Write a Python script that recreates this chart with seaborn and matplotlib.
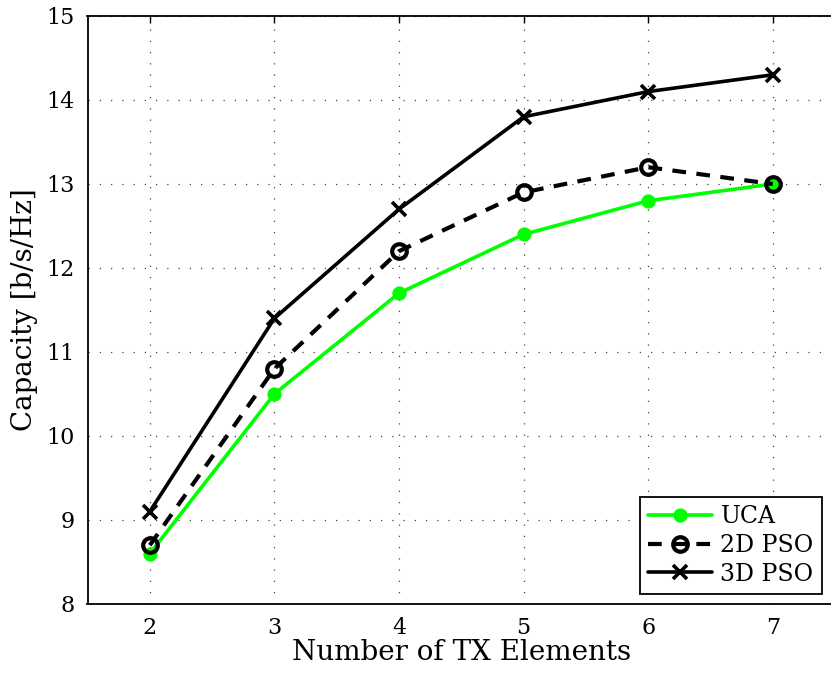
import matplotlib
matplotlib.use("Agg")
import matplotlib.pyplot as plt
import seaborn as sns
import pandas as pd

x_vals = [2, 3, 4, 5, 6, 7]
uca = [8.6, 10.5, 11.7, 12.4, 12.8, 13.0]
pso2d = [8.7, 10.8, 12.2, 12.9, 13.2, 13.0]
pso3d = [9.1, 11.4, 12.7, 13.8, 14.1, 14.3]
x_ticks = [2, 3, 4, 5, 6, 7]
y_ticks = [8, 9, 10, 11, 12, 13, 14, 15]

sns.set_style("white")
plt.rcParams['font.family'] = ['DejaVu Serif']
plt.rcParams['mathtext.fontset'] = 'dejavuserif'
for k in ['text.color', 'axes.labelcolor', 'xtick.color', 'ytick.color']:
    plt.rcParams[k] = 'black'

fig = plt.figure(figsize=(8.31, 6.75), dpi=100)
# right edge of the axes lies just outside the picture (as in the reference)
ax = fig.add_axes([87.5/831, 1-604/675, (835-87.5)/831, (604-16)/675])

df = pd.DataFrame({"x": x_vals, "UCA": uca, "2D PSO": pso2d, "3D PSO": pso3d})

sns.lineplot(data=df, x="x", y="UCA", ax=ax, color="#00ff00", lw=2.6,
             marker="o", markersize=9.5, markeredgecolor="#00ff00", label="UCA")
sns.lineplot(data=df, x="x", y="2D PSO", ax=ax, color="black", lw=3,
             linestyle=(0, (3.3, 2.5)), marker="o", markersize=10.5,
             markerfacecolor="none", markeredgecolor="black", markeredgewidth=3,
             label="2D PSO")
sns.lineplot(data=df, x="x", y="3D PSO", ax=ax, color="black", lw=2.6,
             marker="x", markersize=10.5, markeredgewidth=2.6,
             markeredgecolor="black", label="3D PSO")

ax.set_xlim(1.5, 7.5)
ax.set_ylim(8, 15)
ax.set_xticks(x_ticks)
ax.set_yticks(y_ticks)
ax.tick_params(direction="in", top=True, right=False, length=5, width=1,
               labelsize=16, pad=9)
ax.grid(True, linestyle=(0, (1, 8)), color="#444444", linewidth=0.9)
for name, s in ax.spines.items():
    s.set_visible(name != "right")
    s.set_color("black")
    s.set_linewidth(1.3)

ax.set_xlabel("Number of TX Elements", fontsize=20, labelpad=0)
ax.set_ylabel("Capacity [b/s/Hz]", fontsize=20, labelpad=6)

leg = ax.legend(loc="lower right", bbox_to_anchor=(822/831, 1-594/675),
                bbox_transform=fig.transFigure, borderaxespad=0,
                fontsize=17, frameon=True, fancybox=False,
                edgecolor="black", handlelength=2.7,
                labelspacing=0.25, borderpad=0.35, handletextpad=0.35)
leg.get_frame().set_linewidth(1.3)
leg.get_frame().set_alpha(1)

fig.savefig("out.png", dpi=100)
